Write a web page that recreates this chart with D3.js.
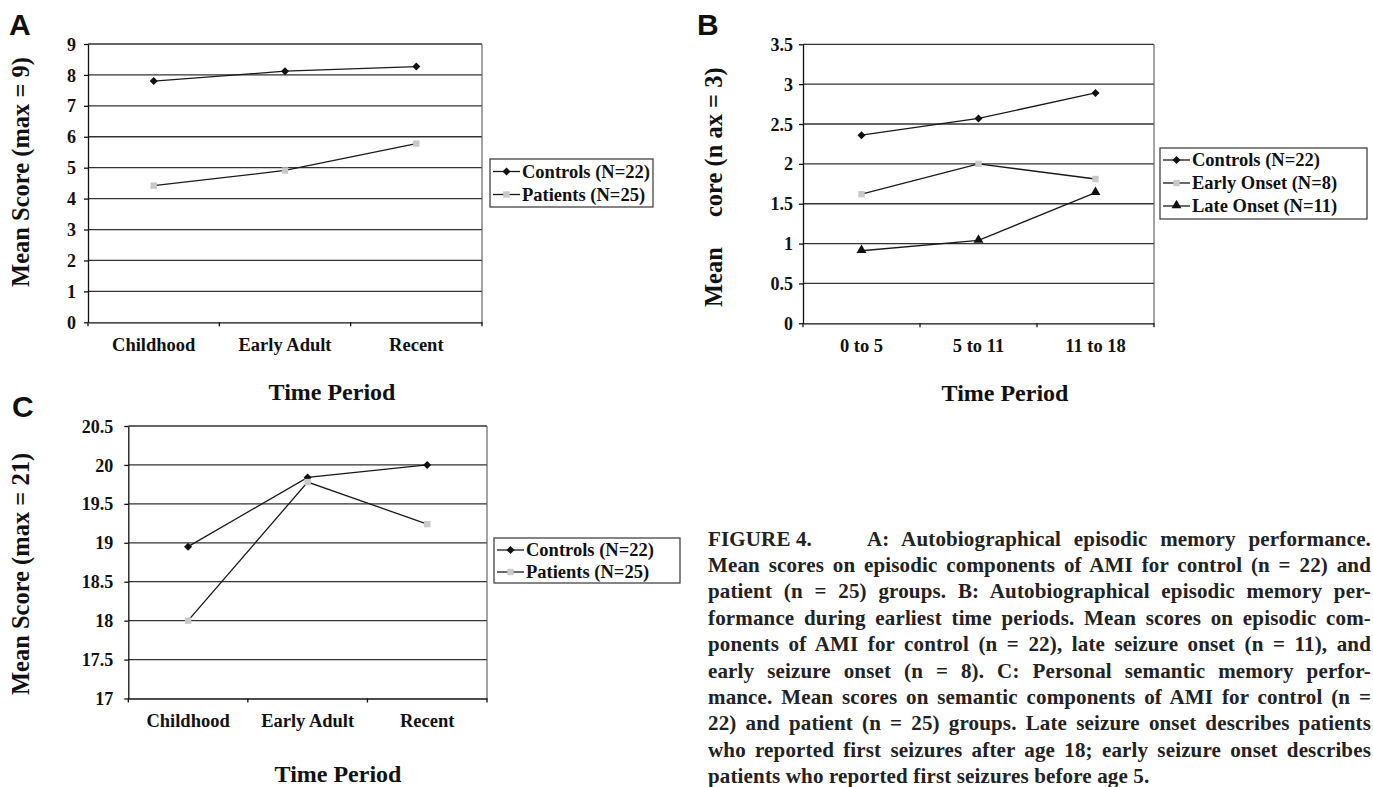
<!DOCTYPE html>
<html>
<head>
<meta charset="utf-8">
<script src="https://cdn.jsdelivr.net/npm/d3@7"></script>
<style>
  html, body { margin: 0; padding: 0; background: #fff; }
  svg { display: block; }
  .serif { font-family: "Liberation Serif", "Times New Roman", serif; font-weight: bold; fill: #111; }
  .letter { font-family: "Liberation Sans", Arial, sans-serif; font-weight: bold; font-size: 30px; fill: #111; }
  .caption { font-family: "Liberation Serif", serif; font-weight: bold; font-size: 21px; letter-spacing: 0.15px; fill: #222; }
  .grid { stroke: #333; stroke-width: 1.3; }
  .frame { stroke: #666; stroke-width: 1.2; fill: none; }
  .axis path, .axis line { stroke: #111; stroke-width: 1.3; }
  .series { fill: none; stroke: #1a1a1a; stroke-width: 1.3; }
</style>
</head>
<body>
<div id="chart"></div>
<script>
var width = 1373, height = 787;

// categories
var periods = ["Childhood", "Early Adult", "Recent"];
var earlyPeriods = ["0 to 5", "5 to 11", "11 to 18"];

// panel A: episodic scores (max = 9)
var episodicControls = [7.80, 8.12, 8.27];
var episodicPatients = [4.42, 4.91, 5.78];
var episodicTicks = [0, 1, 2, 3, 4, 5, 6, 7, 8, 9];

// panel B: episodic scores, earliest periods (max = 3)
var earlyControls = [2.36, 2.57, 2.89];
var earlyOnset = [1.62, 2.00, 1.81];
var lateOnset = [0.91, 1.04, 1.64];
var earlyTicks = [0, 0.5, 1, 1.5, 2, 2.5, 3, 3.5];

// panel C: semantic scores (max = 21)
var semanticControls = [18.95, 19.84, 20.00];
var semanticPatients = [18.00, 19.78, 19.24];
var semanticTicks = [17, 17.5, 18, 18.5, 19, 19.5, 20, 20.5];

var captionLines = [
  "Mean scores on episodic components of AMI for control (n = 22) and",
  "patient (n = 25) groups. B: Autobiographical episodic memory per-",
  "formance during earliest time periods. Mean scores on episodic com-",
  "ponents of AMI for control (n = 22), late seizure onset (n = 11), and",
  "early seizure onset (n = 8). C: Personal semantic memory perfor-",
  "mance. Mean scores on semantic components of AMI for control (n =",
  "22) and patient (n = 25) groups. Late seizure onset describes patients",
  "who reported first seizures after age 18; early seizure onset describes",
  "patients who reported first seizures before age 5."
];

var svg = d3.select("#chart").append("svg")
    .attr("width", width)
    .attr("height", height);

var panels = [
  {
    letter: "A", letterX: 9, letterY: 35,
    categories: periods, ticks: episodicTicks,
    series: [
      {name: "Controls (N=22)", values: episodicControls, marker: "diamond"},
      {name: "Patients (N=25)", values: episodicPatients, marker: "square"}
    ],
    left: 88, right: 482, top: 44, bottom: 322.3, tickGap: 12,
    yTitle: [{text: "Mean Score (max = 9)", y: 172, anchor: "middle"}], yTitleX: 29,
    catY: 351, periodX: 332, periodY: 400,
    legend: {x: 490, y: 159, w: 163, h: 48, rowY: [177.5, 200.5]}
  },
  {
    letter: "B", letterX: 697, letterY: 35,
    categories: earlyPeriods, ticks: earlyTicks,
    series: [
      {name: "Controls (N=22)", values: earlyControls, marker: "diamond"},
      {name: "Early Onset (N=8)", values: earlyOnset, marker: "square"},
      {name: "Late Onset (N=11)", values: lateOnset, marker: "triangle"}
    ],
    left: 803, right: 1154, top: 44.3, bottom: 323.3, tickGap: 10,
    yTitle: [{text: "Mean", y: 307, anchor: "start"}, {text: "core (n ax = 3)", y: 217, anchor: "start"}], yTitleX: 722,
    catY: 352, periodX: 1005, periodY: 401,
    legend: {x: 1160, y: 148, w: 207, h: 71, rowY: [166, 189, 212]}
  },
  {
    letter: "C", letterX: 12, letterY: 417,
    categories: periods, ticks: semanticTicks,
    series: [
      {name: "Controls (N=22)", values: semanticControls, marker: "diamond"},
      {name: "Patients (N=25)", values: semanticPatients, marker: "square"}
    ],
    left: 128.3, right: 487, top: 426, bottom: 698.5, tickGap: 15,
    yTitle: [{text: "Mean Score (max = 21)", y: 574, anchor: "middle"}], yTitleX: 29,
    catY: 727, periodX: 338, periodY: 782,
    legend: {x: 494, y: 538, w: 186, h: 45, rowY: [556, 578]}
  }
];

function drawMarker(sel, type, cx, cy) {
  if (type === "diamond") {
    sel.append("path")
        .attr("d", "M" + cx + "," + (cy - 4) + "L" + (cx + 4) + "," + cy + "L" + cx + "," + (cy + 4) + "L" + (cx - 4) + "," + cy + "Z")
        .attr("fill", "#111");
  } else if (type === "square") {
    sel.append("rect")
        .attr("x", cx - 3.2).attr("y", cy - 3.2)
        .attr("width", 6.4).attr("height", 6.4)
        .attr("fill", "#c9c9c9");
  } else {
    sel.append("path")
        .attr("d", d3.symbol().type(d3.symbolTriangle).size(42)())
        .attr("transform", "translate(" + cx + "," + (cy - 0.5) + ")")
        .attr("fill", "#111");
  }
}

function drawPanel(p) {
  var g = svg.append("g");

  var x = d3.scaleBand().domain(p.categories).range([p.left, p.right]);
  var y = d3.scaleLinear()
      .domain([p.ticks[0], p.ticks[p.ticks.length - 1]])
      .range([p.bottom, p.top]);

  // horizontal gridlines
  g.selectAll("line.grid")
      .data(p.ticks.slice(1))
      .enter().append("line")
      .attr("class", "grid")
      .attr("x1", p.left).attr("x2", p.right)
      .attr("y1", function (d) { return y(d); })
      .attr("y2", function (d) { return y(d); });

  // right edge of the plot area
  g.append("line").attr("class", "frame")
      .attr("x1", p.right).attr("x2", p.right)
      .attr("y1", p.top).attr("y2", p.bottom);

  // y axis
  var yAxis = g.append("g")
      .attr("class", "axis")
      .attr("transform", "translate(" + p.left + ",0)")
      .call(d3.axisLeft(y).tickValues(p.ticks).tickSize(4).tickSizeOuter(0)
          .tickPadding(p.tickGap - 4).tickFormat(function (d) { return String(d); }));
  yAxis.selectAll("text")
      .attr("class", "serif")
      .style("font-size", "18px")
      .attr("dy", "0.34em");

  // x axis: labels at category centres, tick marks between categories
  var xAxis = g.append("g")
      .attr("class", "axis")
      .attr("transform", "translate(0," + p.bottom + ")")
      .call(d3.axisBottom(x).tickSize(0).tickSizeOuter(0).tickPadding(0));
  xAxis.selectAll("text")
      .attr("class", "serif")
      .style("font-size", "18.5px")
      .attr("y", p.catY - p.bottom)
      .attr("dy", 0);
  xAxis.selectAll("line.sep")
      .data(p.categories.concat(["end"]))
      .enter().append("line")
      .attr("class", "sep")
      .attr("x1", function (d, i) { return i < p.categories.length ? x(d) : p.right; })
      .attr("x2", function (d, i) { return i < p.categories.length ? x(d) : p.right; })
      .attr("y1", 0).attr("y2", 4);

  // series lines and markers
  var cx = function (i) { return x(p.categories[i]) + x.bandwidth() / 2; };
  var line = d3.line()
      .x(function (d, i) { return cx(i); })
      .y(function (d) { return y(d); });

  p.series.forEach(function (s) {
    g.append("path").attr("class", "series").attr("d", line(s.values));
  });
  p.series.forEach(function (s) {
    s.values.forEach(function (v, i) {
      drawMarker(g, s.marker, cx(i), y(v));
    });
  });

  // axis titles
  g.append("text")
      .attr("class", "serif")
      .attr("x", p.periodX).attr("y", p.periodY)
      .attr("text-anchor", "middle")
      .style("font-size", "24px")
      .text("Time Period");

  p.yTitle.forEach(function (t) {
    g.append("text")
        .attr("class", "serif")
        .attr("transform", "translate(" + p.yTitleX + "," + t.y + ") rotate(-90)")
        .attr("text-anchor", t.anchor)
        .style("font-size", "24.5px")
        .text(t.text);
  });

  // panel letter
  g.append("text").attr("class", "letter")
      .attr("x", p.letterX).attr("y", p.letterY)
      .text(p.letter);

  // legend
  var lg = g.append("g");
  lg.append("rect")
      .attr("x", p.legend.x).attr("y", p.legend.y)
      .attr("width", p.legend.w).attr("height", p.legend.h)
      .attr("fill", "#fff").attr("stroke", "#444").attr("stroke-width", 1.3);
  p.series.forEach(function (s, i) {
    var ly = p.legend.rowY[i] - 6;
    lg.append("line")
        .attr("x1", p.legend.x + 3).attr("x2", p.legend.x + 30)
        .attr("y1", ly).attr("y2", ly)
        .attr("stroke", "#1a1a1a").attr("stroke-width", 1.3);
    drawMarker(lg, s.marker, p.legend.x + 16.5, ly);
    lg.append("text")
        .attr("class", "serif")
        .attr("x", p.legend.x + 32).attr("y", p.legend.rowY[i])
        .style("font-size", "18.5px")
        .text(s.name);
  });
}

panels.forEach(drawPanel);

// caption, justified to a fixed column
var capLeft = 708, capRight = 1371, capTop = 545.5, capLead = 26.4;

svg.append("text").attr("class", "caption")
    .attr("x", capLeft).attr("y", capTop)
    .text("FIGURE 4.");

function justify(sel, left, right) {
  var w = sel.node().getComputedTextLength();
  var gaps = (sel.text().match(/ /g) || []).length;
  if (gaps > 0) sel.attr("word-spacing", (right - left - w) / gaps);
}

var first = svg.append("text").attr("class", "caption")
    .attr("x", 867).attr("y", capTop)
    .text("A: Autobiographical episodic memory performance.");
justify(first, 867, capRight);

captionLines.forEach(function (t, i) {
  var ln = svg.append("text").attr("class", "caption")
      .attr("x", capLeft).attr("y", capTop + (i + 1) * capLead)
      .text(t);
  if (i < captionLines.length - 1) justify(ln, capLeft, capRight);
});
</script>
</body>
</html>
